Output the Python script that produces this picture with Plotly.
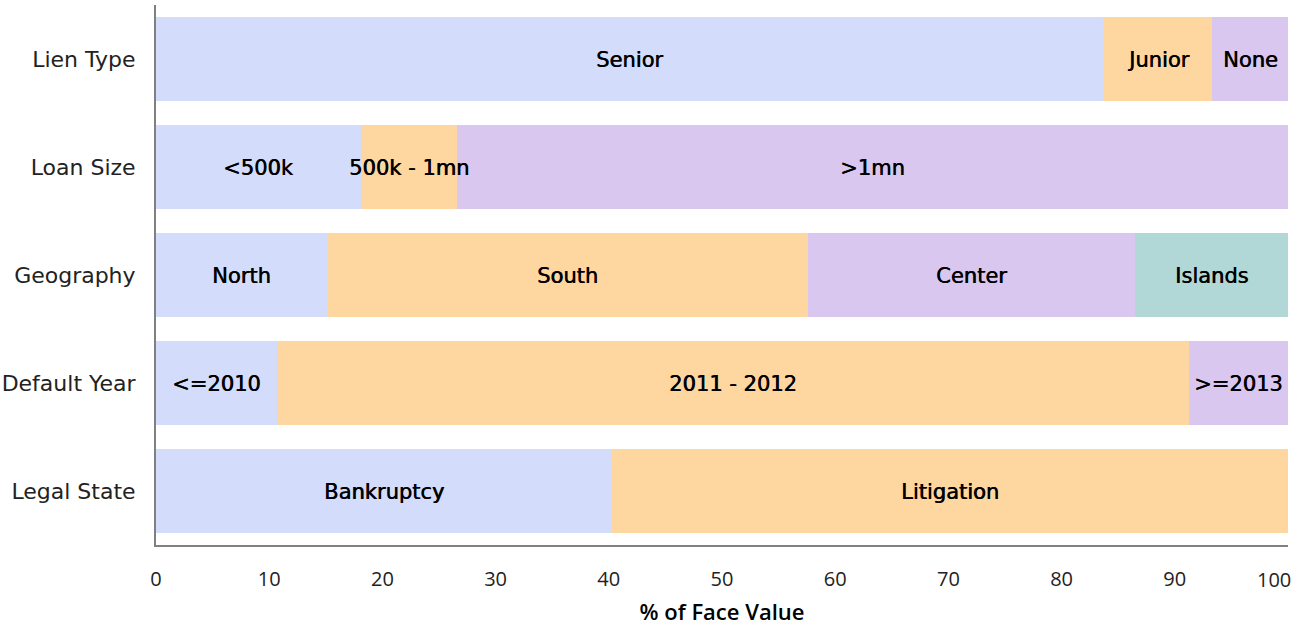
import plotly.graph_objects as go

categories = ["Lien Type", "Loan Size", "Geography", "Default Year", "Legal State"]

# segments per category (label, value %)
lien_labels = ["Senior", "Junior", "None"]
lien_values = [83.7, 9.6, 6.7]
size_labels = ["<500k", "500k - 1mn", ">1mn"]
size_values = [18.1, 8.5, 73.4]
geo_labels = ["North", "South", "Center", "Islands"]
geo_values = [15.1, 42.5, 28.9, 13.5]
year_labels = ["<=2010", "2011 - 2012", ">=2013"]
year_values = [10.7, 80.55, 8.75]
legal_labels = ["Bankruptcy", "Litigation"]
legal_values = [40.2, 59.8]

tick_vals = [0, 10, 20, 30, 40, 50, 60, 70, 80, 90]
last_tick = 100

colors = ["#d3dcfa", "#fed6a0", "#d9c7f0", "#b1d7d6"]

groups = [
    ("Lien Type", lien_labels, lien_values),
    ("Loan Size", size_labels, size_values),
    ("Geography", geo_labels, geo_values),
    ("Default Year", year_labels, year_values),
    ("Legal State", legal_labels, legal_values),
]

fig = go.Figure()
for cat, labels, values in groups:
    start = 0.0
    for i, (lab, val) in enumerate(zip(labels, values)):
        fig.add_trace(go.Bar(
            y=[cat], x=[val], orientation="h",
            marker=dict(color=colors[i], line=dict(width=0)),
            showlegend=False, hoverinfo="skip",
        ))
        fig.add_annotation(
            x=start + val / 2, y=cat, text=lab, showarrow=False,
            xanchor="center", yanchor="middle", yshift=-1,
            font=dict(family="DejaVu Sans", size=21, color="black",
                      shadow="0.6px 0px 0px black"),
        )
        start += val

# last x tick label, kept inside the page
fig.add_annotation(
    x=last_tick, xref="x", y=0, yref="paper", text=str(last_tick),
    showarrow=False, xanchor="right", yanchor="middle", xshift=5, yshift=-34,
    font=dict(family="Open Sans", size=20, color="#222"),
)

fig.update_layout(
    barmode="stack",
    bargap=0.22,
    width=1297, height=626,
    margin=dict(l=156, r=9, t=5, b=81, autoexpand=False),
    plot_bgcolor="white", paper_bgcolor="white",
)
fig.update_xaxes(
    range=[0, 100], tickvals=tick_vals,
    showgrid=False, zeroline=False, automargin=False,
    showline=True, linecolor="#808080", linewidth=2,
    ticks="outside", ticklen=15, tickcolor="rgba(0,0,0,0)",
    tickfont=dict(family="Open Sans", size=20, color="#222"),
    title=dict(text="% of Face Value", font=dict(family="Open Sans", size=22, color="black", weight=600), standoff=14),
)
fig.update_yaxes(
    categoryorder="array", categoryarray=categories[::-1],
    range=[-0.5, 4.5], showgrid=False, zeroline=False, automargin=False,
    showline=True, linecolor="#808080", linewidth=2,
    ticks="outside", ticklen=14, tickcolor="rgba(0,0,0,0)",
    tickfont=dict(family="DejaVu Sans", size=22, color="#222"),
)

fig.write_html("out.html", config={"displayModeBar": False},
               post_script="document.body.style.margin='0';")
